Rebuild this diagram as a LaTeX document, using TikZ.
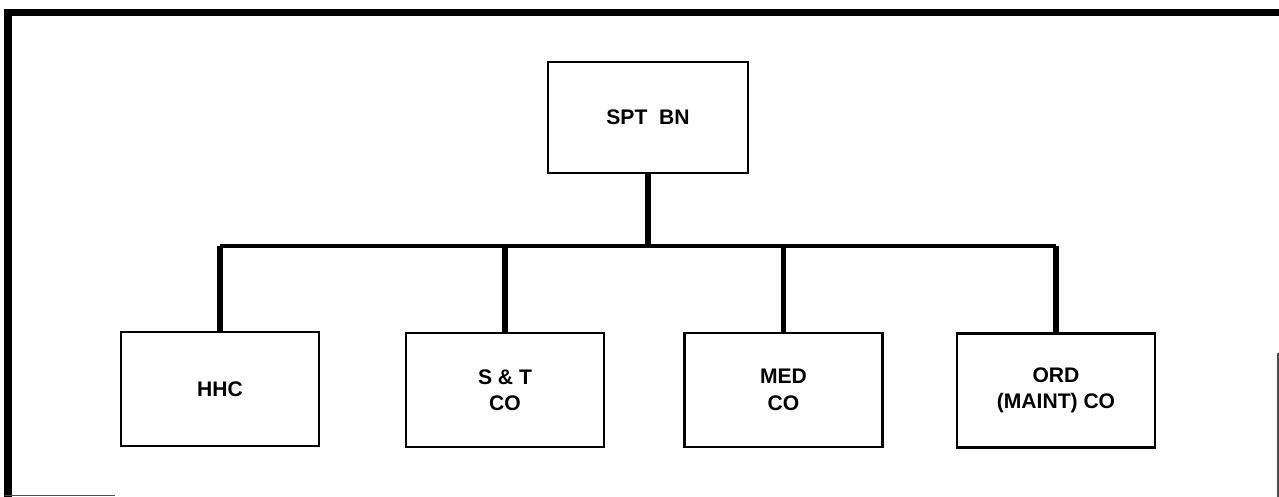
\documentclass[tikz,border=0pt]{standalone}
\usepackage{fontspec}
\setmainfont{Liberation Sans}

\begin{document}
\begin{tikzpicture}[x=0.02cm,y=-0.02cm,
    unit/.style={draw,line width=1.6pt,minimum width=3.96cm,minimum height=2.28cm,
      align=center,inner sep=0pt,font=\bfseries\fontsize{12}{15}\selectfont},
    link/.style={line width=3pt},
    bus/.style={line width=2.2pt}]
    \useasboundingbox (0,0) rectangle (1279,497);

    % Marco
    \draw[line width=4.5pt] (8,497) -- (8,12.5) -- (1279,12.5);
    \draw[line width=0.6pt,black!70] (5,495.5) -- (115,495.5);
    \draw[line width=0.6pt,black!70] (1278,353) -- (1278,497);

    % Batallon
    \node[unit,minimum width=4cm,minimum height=2.22cm] (spt) at (648,117.5) {SPT\ \ BN};

    % Companias
    \node[unit] (hhc) at (220,389) {HHC};
    \node[unit] (st) at (505,390) {S \& T\\CO};
    \node[unit] (med) at (783.5,390) {MED\\CO};
    \node[unit] (ord) at (1056,390.5) {ORD\\(MAINT) CO};

    % Lineas
    \coordinate (split) at (650,246);
    \draw[link] (spt.south) -- (spt.south |- split);
    \draw[bus] (hhc.north |- split) -- (ord.north |- split);
    \foreach \co in {hhc,st,med,ord}
        \draw[link] (\co.north) -- (\co.north |- split);

\end{tikzpicture}
\end{document}
